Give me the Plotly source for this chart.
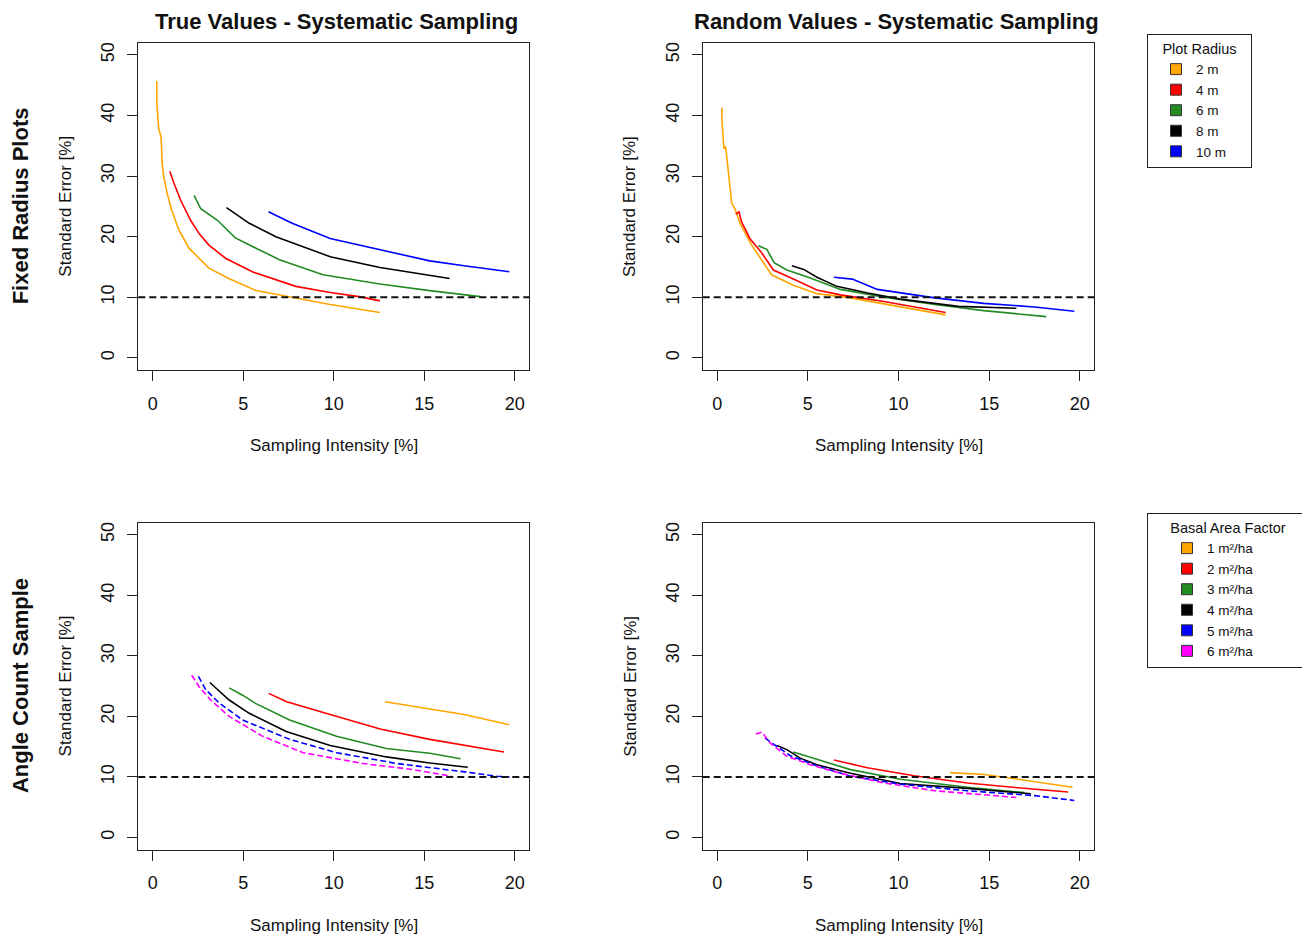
import plotly.graph_objects as go

FONT = "Liberation Sans, Arial, sans-serif"
W, H = 1310, 938          # target page size
OX, OY = 8, 8             # default page body margin
FW, FH = W - OX, H - OY   # figure size

# ---------------- data ----------------
radius_labels = ["2 m", "4 m", "6 m", "8 m", "10 m"]
radius_colors = ["#FFA500", "#FF0000", "#228B22", "#000000", "#0000FF"]

baf_labels = ["1 m²/ha", "2 m²/ha", "3 m²/ha", "4 m²/ha", "5 m²/ha", "6 m²/ha"]
baf_colors = ["#FFA500", "#FF0000", "#228B22", "#000000", "#0000FF", "#FF00FF"]
baf_dash = ["solid", "solid", "solid", "solid", "6px,3px", "6px,3px"]

# True values - fixed radius plots
tv_fr_x = [
    [0.22, 0.22, 0.33, 0.46, 0.52, 0.61, 0.80, 1.04, 1.44, 2.0, 3.1, 4.2, 5.7, 6.6, 7.9, 9.8, 12.55],
    [0.94, 1.17, 1.54, 2.09, 2.56, 3.1, 4.04, 5.5, 7.9, 9.8, 11.4, 12.55],
    [2.28, 2.65, 3.57, 4.56, 5.7, 7.0, 9.4, 12.55, 15.3, 18.1],
    [4.07, 5.33, 6.8, 8.3, 9.8, 12.55, 14.4, 16.4],
    [6.39, 7.7, 9.8, 12.55, 15.3, 17.2, 19.7],
]
tv_fr_y = [
    [45.7, 42.2, 37.8, 36.4, 32.0, 29.8, 27.1, 24.4, 21.1, 18.1, 14.8, 13.1, 11.1, 10.6, 9.9, 8.8, 7.5],
    [30.8, 28.8, 26.0, 22.7, 20.5, 18.6, 16.4, 14.2, 11.8, 10.8, 10.1, 9.4],
    [26.8, 24.6, 22.7, 19.8, 18.1, 16.2, 13.7, 12.2, 11.1, 10.1],
    [24.8, 22.2, 20.0, 18.3, 16.7, 14.9, 14.0, 13.1],
    [24.1, 22.2, 19.7, 17.8, 16.0, 15.2, 14.2],
]

# Random values - fixed radius plots
rv_fr_x = [
    [0.26, 0.26, 0.37, 0.46, 0.52, 0.66, 0.8, 0.98, 1.26, 1.9, 3.0, 4.2, 5.5, 7.35, 10.1, 12.6],
    [1.02, 1.2, 1.35, 1.8, 2.46, 3.1, 4.2, 5.5, 6.8, 9.2, 12.6],
    [2.27, 2.74, 3.14, 3.84, 4.95, 6.8, 9.2, 12.0, 14.7, 18.15],
    [4.12, 4.77, 5.5, 6.6, 8.3, 10.1, 13.3, 16.5],
    [6.43, 7.45, 8.83, 10.5, 12.0, 14.7, 17.5, 19.7],
]
rv_fr_y = [
    [41.3, 39.2, 34.5, 34.9, 33.4, 29.3, 25.5, 24.6, 22.2, 18.6, 13.7, 12.0, 10.6, 9.9, 8.5, 7.1],
    [23.7, 24.1, 22.4, 19.7, 17.3, 14.5, 13.0, 11.2, 10.4, 9.3, 7.5],
    [18.5, 17.9, 15.7, 14.5, 13.4, 11.3, 10.0, 8.8, 7.8, 6.8],
    [15.2, 14.6, 13.3, 11.8, 10.7, 9.7, 8.5, 8.2],
    [13.3, 13.0, 11.3, 10.6, 9.9, 9.0, 8.4, 7.7],
]

# True values - angle count sample
tv_ac_x = [
    [12.83, 15.33, 17.2, 19.7],
    [6.4, 7.4, 9.8, 12.56, 15.3, 17.2, 19.4],
    [4.22, 4.96, 5.7, 7.56, 10.15, 12.9, 15.3, 17.0],
    [3.15, 4.22, 5.33, 7.37, 9.8, 12.9, 15.3, 17.4],
    [2.52, 2.93, 3.67, 4.96, 7.56, 10.15, 13.5, 16.3, 17.55, 19.0, 19.7],
    [2.15, 2.56, 3.2, 4.22, 6.07, 8.3, 11.63, 14.4, 16.5],
]
tv_ac_y = [
    [22.4, 21.2, 20.3, 18.6],
    [23.8, 22.4, 20.3, 17.9, 16.2, 15.2, 14.1],
    [24.7, 23.5, 22.1, 19.4, 16.7, 14.7, 13.9, 13.0],
    [25.6, 22.7, 20.5, 17.5, 15.2, 13.3, 12.3, 11.6],
    [26.6, 24.4, 22.2, 19.4, 16.2, 14.0, 12.2, 11.2, 10.7, 10.1, 10.0],
    [26.8, 24.9, 22.7, 20.0, 16.7, 14.0, 12.2, 11.2, 10.1],
]

# Random values - angle count sample
rv_ac_x = [
    [12.85, 14.74, 16.6, 19.6],
    [6.43, 8.28, 10.86, 13.8, 16.6, 19.35],
    [4.2, 5.5, 7.35, 10.1, 13.8, 16.95],
    [3.3, 3.84, 4.58, 5.5, 7.35, 10.1, 13.8, 17.3],
    [2.64, 3.29, 4.03, 5.32, 7.35, 10.1, 13.8, 17.5, 19.7],
    [2.13, 2.46, 2.92, 3.84, 5.14, 6.8, 9.2, 12.0, 16.5],
]
rv_ac_y = [
    [10.7, 10.4, 9.6, 8.3],
    [12.8, 11.5, 10.2, 9.0, 8.2, 7.5],
    [14.1, 12.9, 11.2, 9.6, 8.3, 7.4],
    [15.2, 14.5, 13.1, 12.0, 10.6, 8.9, 8.1, 7.2],
    [16.4, 15.1, 13.5, 12.0, 10.1, 8.8, 7.7, 6.9, 6.1],
    [17.1, 17.4, 15.6, 13.4, 12.0, 10.6, 9.0, 7.7, 6.6],
]

panel_titles = ["True Values - Systematic Sampling", "Random Values - Systematic Sampling"]
row_titles = ["Fixed Radius Plots", "Angle Count Sample"]
x_title = "Sampling Intensity [%]"
y_title = "Standard Error [%]"
x_ticks = [0, 5, 10, 15, 20]
y_ticks = [0, 10, 20, 30, 40, 50]
ref_line = 10

# ---------------- layout geometry (page pixels) ----------------
col_px = [(138.3, 529.3), (702.7, 1094.3)]
row_px = [(42.7, 370.0), (522.7, 849.5)]

def px_x(p):
    return (p - OX) / FW

def px_y(p):
    return (H - p) / FH

def xdom(c):
    return [px_x(col_px[c][0]), px_x(col_px[c][1])]

def ydom(r):
    return [px_y(row_px[r][1]), px_y(row_px[r][0])]

fig = go.Figure()

panels = [
    (0, 0, tv_fr_x, tv_fr_y, radius_colors, ["solid"] * 5),
    (0, 1, rv_fr_x, rv_fr_y, radius_colors, ["solid"] * 5),
    (1, 0, tv_ac_x, tv_ac_y, baf_colors, baf_dash),
    (1, 1, rv_ac_x, rv_ac_y, baf_colors, baf_dash),
]

layout = {}
for i, (r, c, xs, ys, cols, dashes) in enumerate(panels):
    n = i + 1
    sx = "" if n == 1 else str(n)
    for x, y, col, d in zip(xs, ys, cols, dashes):
        fig.add_trace(go.Scatter(
            x=x, y=y, mode="lines", showlegend=False, hoverinfo="skip",
            line=dict(color=col, width=1.6, dash=d),
            xaxis="x" + sx, yaxis="y" + sx,
        ))
    axcommon = dict(
        showline=True, linecolor="#222", linewidth=1, mirror=True,
        ticks="outside", ticklen=10, tickwidth=1, tickcolor="#222",
        showgrid=False, zeroline=False,
        tickfont=dict(family=FONT, size=18, color="#111"),
    )
    layout["xaxis" + sx] = dict(
        axcommon, domain=xdom(c), range=[-0.8, 20.8], tickvals=x_ticks,
        anchor="y" + sx, ticklabelstandoff=7,
    )
    layout["yaxis" + sx] = dict(
        axcommon, domain=ydom(r), range=[-2, 52], tickvals=y_ticks,
        anchor="x" + sx, tickangle=-90, ticklabelstandoff=6,
    )
    fig.add_shape(
        type="line", xref="x" + sx + " domain", x0=0, x1=1,
        yref="y" + sx, y0=ref_line, y1=ref_line,
        line=dict(color="#111", width=2, dash="7px,4px"),
    )

# legend entries (square swatches)
for lab, col in zip(radius_labels, radius_colors):
    fig.add_trace(go.Scatter(
        x=[None], y=[None], mode="markers", name=lab, legend="legend",
        marker=dict(symbol="square", size=11, color=col, line=dict(color="#333", width=1)),
    ))
for lab, col in zip(baf_labels, baf_colors):
    fig.add_trace(go.Scatter(
        x=[None], y=[None], mode="markers", name=lab, legend="legend2",
        marker=dict(symbol="square", size=11, color=col, line=dict(color="#333", width=1)),
    ))

NB = "\u00a0"
leg_common = dict(
    xanchor="left", yanchor="top", bgcolor="white",
    bordercolor="#222", borderwidth=1,
    font=dict(family=FONT, size=13.5, color="#111"),
    tracegroupgap=0,
)
layout["legend"] = dict(
    leg_common, x=px_x(1147), y=px_y(34), indentation=8,
    title=dict(text=NB * 3 + "Plot Radius" + NB * 3, side="top center",
               font=dict(family=FONT, size=14.5, color="#111")),
)
layout["legend2"] = dict(
    leg_common, x=px_x(1147), y=px_y(513), indentation=19,
    title=dict(text=NB * 5 + "Basal Area Factor" + NB * 5, side="top center",
               font=dict(family=FONT, size=14.5, color="#111")),
)

annotations = []
# column titles
title_cx = [336, 897]
for c, t in enumerate(panel_titles):
    annotations.append(dict(
        text="<b>" + t + "</b>", x=px_x(title_cx[c]), y=px_y(22), xref="paper", yref="paper",
        xanchor="center", yanchor="middle", showarrow=False,
        font=dict(family=FONT, size=22, color="#111"),
    ))
# row titles
for r, t in enumerate(row_titles):
    cy = (row_px[r][0] + row_px[r][1]) / 2
    annotations.append(dict(
        text="<b>" + t + "</b>", x=px_x(20), y=px_y(cy), xref="paper", yref="paper",
        xanchor="center", yanchor="middle", showarrow=False, textangle=-90,
        font=dict(family=FONT, size=22, color="#111"),
    ))
# axis titles
for r in range(2):
    for c in range(2):
        cx = (col_px[c][0] + col_px[c][1]) / 2
        cy = (row_px[r][0] + row_px[r][1]) / 2
        annotations.append(dict(
            text=x_title, x=px_x(cx), y=px_y(row_px[r][1] + 75.5),
            xref="paper", yref="paper", xanchor="center", yanchor="middle",
            showarrow=False, font=dict(family=FONT, size=17, color="#111"),
        ))
        annotations.append(dict(
            text=y_title, x=px_x(col_px[c][0] - 73), y=px_y(cy),
            xref="paper", yref="paper", xanchor="center", yanchor="middle",
            showarrow=False, textangle=-90,
            font=dict(family=FONT, size=17, color="#111"),
        ))

fig.update_layout(
    width=FW, height=FH,
    margin=dict(l=0, r=0, t=0, b=0, pad=0, autoexpand=False),
    paper_bgcolor="white", plot_bgcolor="white",
    font=dict(family=FONT, color="#111"),
    annotations=annotations,
    **layout,
)

fig.write_html("out.html")
